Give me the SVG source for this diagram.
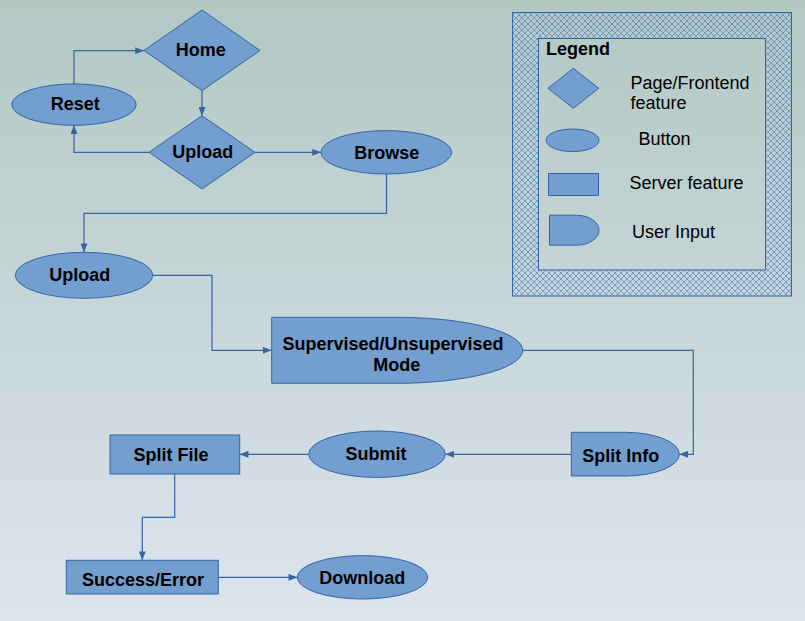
<svg xmlns="http://www.w3.org/2000/svg" width="805" height="621" viewBox="0 0 805 621">
<defs>
<linearGradient id="bg" gradientUnits="userSpaceOnUse" x1="0" y1="0" x2="0" y2="621">
<stop offset="0" stop-color="#b2c8c3"/>
<stop offset="1" stop-color="#dde4ee"/>
</linearGradient>
<pattern id="hatch" patternUnits="userSpaceOnUse" width="6" height="6">
<path d="M0,0 L6,6 M6,0 L0,6" stroke="#5b86c6" stroke-width="0.75" fill="none"/>
</pattern>
<marker id="arr" markerUnits="userSpaceOnUse" viewBox="0 0 10 8" refX="10" refY="4" markerWidth="9" markerHeight="7" orient="auto">
<path d="M0,0 L10,4 L0,8 z" fill="#3465a4"/>
</marker>
<style>
.s{fill:#729fcf;stroke:#3465a4;stroke-width:1}
.t{font-family:"Liberation Sans",Arial,sans-serif;font-size:18px;font-weight:bold;fill:#000;text-anchor:middle}
.l{font-family:"Liberation Sans",Arial,sans-serif;font-size:18px;fill:#000}
.c{fill:none;stroke:#3465a4;stroke-width:1.2}
</style>
</defs>
<rect x="0" y="0" width="805" height="621" fill="url(#bg)"/>

<g id="legend">
<rect x="512.5" y="12.5" width="279" height="283.5" fill="url(#hatch)" stroke="#3465a4" stroke-width="1"/>
<rect x="538.5" y="38.5" width="227" height="231.5" fill="url(#bg)" stroke="#3465a4" stroke-width="1"/>
<text x="546" y="55" class="l" font-weight="bold">Legend</text>
<polygon class="s" points="548,88.3 573.3,68.3 598.7,88.3 573.3,108.3"/>
<text x="630.5" y="89" class="l">Page/Frontend</text>
<text x="630.5" y="109.3" class="l">feature</text>
<ellipse class="s" cx="572.5" cy="140.3" rx="26.5" ry="11.3"/>
<text x="638.5" y="145" class="l">Button</text>
<rect class="s" x="548.5" y="173.5" width="50" height="22"/>
<text x="629.5" y="189" class="l">Server feature</text>
<path class="s" d="M549.5,215.2 H576.5 A22.5,15 0 0 1 576.5,245.2 H549.5 Z"/>
<text x="632" y="238" class="l">User Input</text>
</g>

<g id="connectors">
<polyline class="c" points="74,84 74,50.7 144,50.7" marker-end="url(#arr)"/>
<polyline class="c" points="202,90.7 202,115.7" marker-end="url(#arr)"/>
<polyline class="c" points="149,152.3 74,152.3 74,125.3" marker-end="url(#arr)"/>
<polyline class="c" points="255,152.3 321,152.3" marker-end="url(#arr)"/>
<polyline class="c" points="386.5,174 386.5,213.3 84,213.3 84,252.3" marker-end="url(#arr)"/>
<polyline class="c" points="152.7,275.3 212,275.3 212,350.3 271.5,350.3" marker-end="url(#arr)"/>
<polyline class="c" points="522.7,350.3 693.3,350.3 693.3,454.3 679.3,454.3" marker-end="url(#arr)"/>
<polyline class="c" points="571.3,454.3 445.3,454.3" marker-end="url(#arr)"/>
<polyline class="c" points="308.7,454.3 239.7,454.3" marker-end="url(#arr)"/>
<polyline class="c" points="174.7,474 174.7,517.3 142.3,517.3 142.3,560.3" marker-end="url(#arr)"/>
<polyline class="c" points="218.3,577.3 297.3,577.3" marker-end="url(#arr)"/>
</g>

<g id="home">
<polygon class="s" points="144,50.5 202,10 260,50.5 202,90.7"/>
<text x="200.7" y="55.7" class="t">Home</text>
</g>
<g id="reset">
<ellipse class="s" cx="74" cy="104.6" rx="62.2" ry="20.7"/>
<text x="75.2" y="110" class="t">Reset</text>
</g>
<g id="upload-page">
<polygon class="s" points="149,152.3 202,115.7 255,152.3 202,189"/>
<text x="202.8" y="158" class="t">Upload</text>
</g>
<g id="browse">
<ellipse class="s" cx="386.3" cy="152.3" rx="65.3" ry="21.7"/>
<text x="386.8" y="159.3" class="t">Browse</text>
</g>
<g id="upload-button">
<ellipse class="s" cx="84" cy="275.3" rx="68.7" ry="23"/>
<text x="79.7" y="281" class="t">Upload</text>
</g>
<g id="mode">
<path class="s" d="M271.7,317.3 H397.2 A125.5,33 0 0 1 397.2,383.3 H271.7 Z"/>
<text x="393" y="350.3" class="t">Supervised/Unsupervised</text>
<text x="396.7" y="371" class="t">Mode</text>
</g>
<g id="split-info">
<path class="s" d="M571.3,432.3 H625.3 A54,21.85 0 0 1 625.3,476 H571.3 Z"/>
<text x="620.7" y="461.7" class="t">Split Info</text>
</g>
<g id="submit">
<ellipse class="s" cx="377" cy="454.2" rx="68.3" ry="23.2"/>
<text x="376" y="460" class="t">Submit</text>
</g>
<g id="split-file">
<rect class="s" x="110" y="435" width="129.7" height="39"/>
<text x="171" y="460.7" class="t">Split File</text>
</g>
<g id="success-error">
<rect class="s" x="66.3" y="560.3" width="152" height="33.7"/>
<text x="143" y="585.7" class="t">Success/Error</text>
</g>
<g id="download">
<ellipse class="s" cx="362.5" cy="577.3" rx="65.2" ry="21.7"/>
<text x="362.2" y="584.3" class="t">Download</text>
</g>
</svg>
